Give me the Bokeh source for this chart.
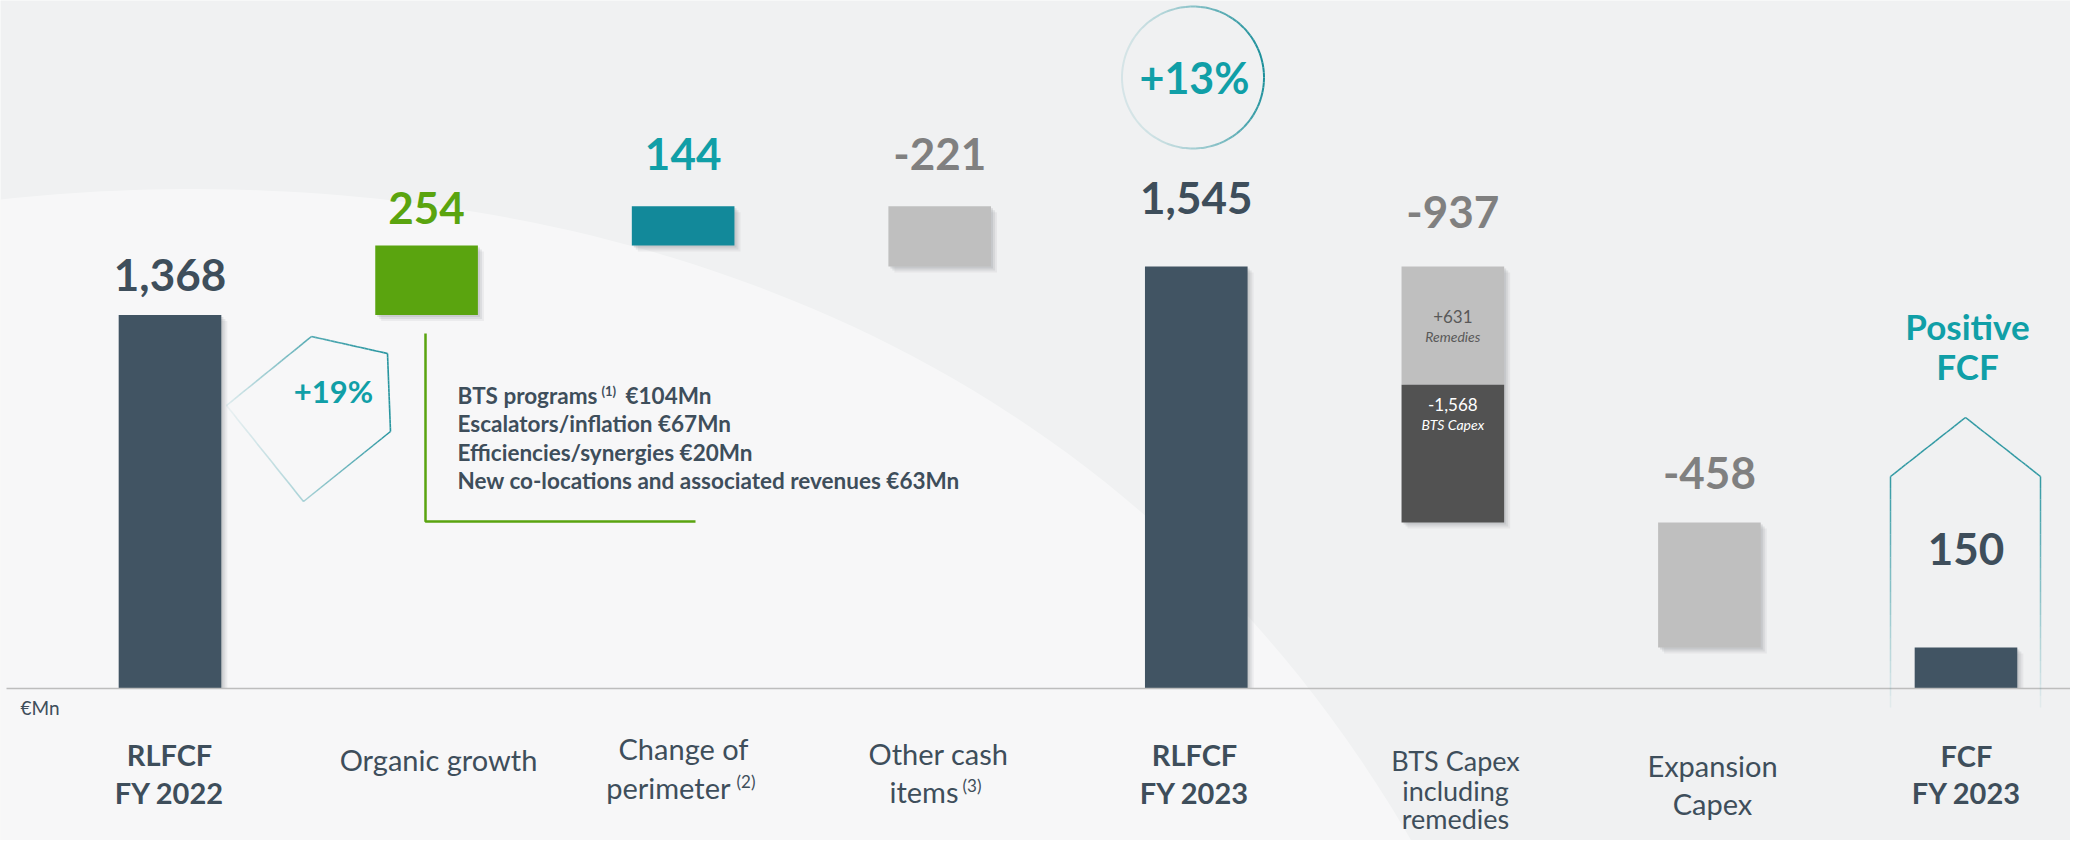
import numpy as np
from bokeh.plotting import figure
from bokeh.models import Range1d
from bokeh.core.properties import value
from bokeh.embed import file_html
from bokeh.resources import INLINE

# ---------------- data ----------------
categories = ["RLFCF FY 2022", "Organic growth", "Change of perimeter", "Other cash items",
              "RLFCF FY 2023", "BTS Capex including remedies", "Expansion Capex", "FCF FY 2023"]
values = [1368, 254, 144, -221, 1545, -937, -458, 150]
is_total = [True, False, False, False, True, False, False, True]
value_labels = ["1,368", "254", "144", "-221", "1,545", "-937", "-458", "150"]
category_lines = [["RLFCF", "FY 2022"], ["Organic growth"], ["Change of", "perimeter"],
                  ["Other cash", "items"], ["RLFCF", "FY 2023"],
                  ["BTS Capex", "including", "remedies"], ["Expansion", "Capex"], ["FCF", "FY 2023"]]
category_notes = ["", "", "(2)", "(3)", "", "", "", ""]
bts_part_labels = ["+631", "-1,568"]
bts_part_names = ["Remedies", "BTS Capex"]
bts_split = 1112          # level where the two drawn BTS segments meet
organic_items = ["BTS programs", "Escalators/inflation €67Mn",
                 "Efficiencies/synergies €20Mn", "New co-locations and associated revenues €63Mn"]
organic_item1_note = "(1)"
organic_item1_value = "€104Mn"
organic_growth_pct = "+19%"
rlfcf_growth_pct = "+13%"
unit_label = "€Mn"
fcf_note = ["Positive", "FCF"]

# ---------------- geometry helpers (pixel -> data) ----------------
W, H = 2070, 840
DX = 256.57            # px between categories
X0 = 169.5             # px of first bar centre
BASE = 688.0           # px of zero line
U = 1 / 0.2731         # data units per px (vertical)

def X(xf):
    return (xf - X0) / DX

def Y(yf):
    return (BASE - yf) * U

FONT = value("Lato")
DARK = "#415463"
TXT = "#3E4E5B"
TEAL = "#109FA7"
LINE_TEAL = "#1B8F9A"
GREEN = "#5AA40F"
GRAY_TXT = "#808080"

p = figure(width=W, height=H, output_backend="svg", toolbar_location=None,
           x_range=Range1d(X(0), X(W)), y_range=Range1d(Y(H), Y(0)),
           min_border=0, outline_line_color=None)
p.axis.visible = False
p.xgrid.visible = False
p.ygrid.visible = False
p.background_fill_color = "#F0F1F2"
p.border_fill_color = "#F0F1F2"

# background light swoosh
t = np.linspace(0, 1, 80)
P0, P1, P2, P3 = (0, 199), (350, 160), (1050, 200), (1420, 856)
bx = (1 - t) ** 3 * P0[0] + 3 * (1 - t) ** 2 * t * P1[0] + 3 * (1 - t) * t ** 2 * P2[0] + t ** 3 * P3[0]
by = (1 - t) ** 3 * P0[1] + 3 * (1 - t) ** 2 * t * P1[1] + 3 * (1 - t) * t ** 2 * P2[1] + t ** 3 * P3[1]
px_ = list(bx) + [0]
py_ = list(by) + [856]
p.patch([X(v) for v in px_], [Y(v) for v in py_], fill_color="#FFFFFF", fill_alpha=0.45, line_color=None)

# ---------------- waterfall geometry ----------------
bottoms, tops = [], []
running = 0
for v, tot in zip(values, is_total):
    if tot:
        b, tp = 0, v
        running = v
    else:
        b, tp = min(running, running + v), max(running, running + v)
        running += v
    bottoms.append(b)
    tops.append(tp)

xs = list(range(len(categories)))
BW = 0.40
bar_colors = [DARK, GREEN, "#12899A", "#BFBFBF", DARK, "#BFBFBF", "#BFBFBF", DARK]

# shadows
for off, alpha in [(6, 0.13), (4, 0.2), (2, 0.26)]:
    p.quad(left=[x - BW / 2 + off / DX for x in xs], right=[x + BW / 2 + off / DX for x in xs],
           bottom=[max(b - off * U, 0) if b > 0 else b for b in bottoms],
           top=[tp - off * U for tp in tops],
           fill_color="#9A9EA3", fill_alpha=alpha, line_color=None)

# bars (BTS drawn in two segments)
norm = [i for i in xs if i != 5]
p.quad(left=[xs[i] - BW / 2 for i in norm], right=[xs[i] + BW / 2 for i in norm],
       bottom=[bottoms[i] for i in norm], top=[tops[i] for i in norm],
       fill_color=[bar_colors[i] for i in norm], line_color=None)
p.quad(left=[5 - BW / 2] * 2, right=[5 + BW / 2] * 2,
       bottom=[bts_split, bottoms[5]], top=[tops[5], bts_split],
       fill_color=["#BFBFBF", "#525252"], line_color=None)

# BTS inner labels
p.text(x=[5, 5], y=[(tops[5] + bts_split) / 2 + 9 * U, (bts_split + bottoms[5]) / 2 + 49 * U],
       text=bts_part_labels, text_font=FONT, text_font_size="17px",
       text_color=["#595959", "#FFFFFF"], text_align="center", text_baseline="middle")
p.text(x=[5, 5], y=[(tops[5] + bts_split) / 2 - 11 * U, (bts_split + bottoms[5]) / 2 + 29 * U],
       text=bts_part_names, text_font=FONT, text_font_size="14px", text_font_style="italic",
       text_color=["#595959", "#FFFFFF"], text_align="center", text_baseline="middle")

# zero line
p.segment(x0=[X(6)], y0=[0], x1=[X(W)], y1=[0], line_color="#BDBDBD", line_width=1.5)

# value labels
label_gap_px = [40, 38, 52, 52, 69, 55, 49, 99]
label_colors = [TXT, GREEN, TEAL, GRAY_TXT, TXT, GRAY_TXT, GRAY_TXT, TXT]
p.text(x=xs, y=[tp + g * U for tp, g in zip(tops, label_gap_px)], text=value_labels,
       text_font=FONT, text_font_size="44px", text_font_style="bold",
       text_color=label_colors, text_align="center", text_baseline="middle")

# category labels
cat_x_px = [169, 438, 683, 938, 1194, 1455, 1712, 1966]
cat_y_px = [[754, 792], [759], [748, 787], [753, 791], [754, 792], [760, 790, 818], [765, 803], [755, 792]]
for i, lines in enumerate(category_lines):
    fs = "27px" if i == 5 else "29px"
    for j, ln in enumerate(lines):
        xx, al = cat_x_px[i], "center"
        if category_notes[i] and j == len(lines) - 1:
            xx, al = (730, "right") if i == 2 else (958, "right")
        p.text(x=[X(xx)], y=[Y(cat_y_px[i][j])], text=[ln], text_font=FONT, text_font_size=fs,
               text_font_style="bold" if is_total[i] else "normal", text_color=TXT,
               text_align=al, text_baseline="middle")
    if category_notes[i]:
        nx = 736 if i == 2 else 962
        p.text(x=[X(nx)], y=[Y(cat_y_px[i][-1] - 6)], text=[category_notes[i]], text_font=FONT,
               text_font_size="17px", text_color=TXT, text_align="left", text_baseline="middle")

# unit label
p.text(x=[X(20)], y=[Y(707)], text=[unit_label], text_font=FONT, text_font_size="19px",
       text_color=TXT, text_align="left", text_baseline="middle")

# organic growth breakdown
line_y = [395, 423, 452, 480]
p.text(x=[X(457)] * 4, y=[Y(v) for v in line_y], text=organic_items, text_font=FONT,
       text_font_size="22.5px", text_font_style="bold", text_color=TXT,
       text_align="left", text_baseline="middle")
p.text(x=[X(601)], y=[Y(390)], text=[organic_item1_note], text_font=FONT, text_font_size="13px",
       text_font_style="bold", text_color=TXT, text_align="left", text_baseline="middle")
p.text(x=[X(625)], y=[Y(395)], text=[organic_item1_value], text_font=FONT, text_font_size="22.5px",
       text_font_style="bold", text_color=TXT, text_align="left", text_baseline="middle")
# green bracket
p.line(x=[X(425), X(425), X(695)], y=[Y(333), Y(521), Y(521)], line_color=GREEN, line_width=2.5)

# gradient polyline helper
def grad_line(pts, alphas, color, width, n=20):
    x0s, y0s, x1s, y1s, als = [], [], [], [], []
    for (a, b), (aa, ab) in zip(zip(pts[:-1], pts[1:]), zip(alphas[:-1], alphas[1:])):
        for k in range(n):
            f0, f1 = k / n, (k + 1) / n
            x0s.append(X(a[0] + (b[0] - a[0]) * f0)); y0s.append(Y(a[1] + (b[1] - a[1]) * f0))
            x1s.append(X(a[0] + (b[0] - a[0]) * f1)); y1s.append(Y(a[1] + (b[1] - a[1]) * f1))
            als.append(aa + (ab - aa) * (f0 + f1) / 2)
    p.segment(x0=x0s, y0=y0s, x1=x1s, y1=y1s, line_color=color, line_alpha=als, line_width=width)

# +19% pentagon
grad_line([(226, 405), (311, 336), (387, 353), (390, 431), (303, 501), (226, 405)],
          [0.1, 0.75, 0.95, 0.95, 0.35, 0.05], LINE_TEAL, 1.6)
p.text(x=[X(333)], y=[Y(390)], text=[organic_growth_pct], text_font=FONT, text_font_size="31px",
       text_font_style="bold", text_color=TEAL, text_align="center", text_baseline="middle")

# +13% circle with gradient stroke
na = 90
ang = np.linspace(0, 2 * np.pi, na + 1)
mid = (ang[:-1] + ang[1:]) / 2
arc_alpha = list(0.12 + 0.88 * ((1 + np.cos(mid - 0.15)) / 2) ** 1.6)
p.arc(x=[X(1192.5)] * na, y=[Y(77)] * na, radius=71, radius_units="screen",
      start_angle=list(ang[:-1]), end_angle=list(ang[1:]), line_color=LINE_TEAL,
      line_alpha=arc_alpha, line_width=2)
p.text(x=[X(1194)], y=[Y(77)], text=[rlfcf_growth_pct], text_font=FONT, text_font_size="43px",
       text_font_style="bold", text_color=TEAL, text_align="center", text_baseline="middle")

# Positive FCF house
grad_line([(1890, 707), (1890, 476), (1965, 417), (2040, 476), (2040, 707)],
          [0.05, 0.9, 0.9, 0.9, 0.05], LINE_TEAL, 1.5)
p.text(x=[X(1967)] * 2, y=[Y(325), Y(365)], text=fcf_note, text_font=FONT, text_font_size="35px",
       text_font_style="bold", text_color=TEAL, text_align="center", text_baseline="middle")

open("out.html", "w").write(file_html(p, INLINE))
